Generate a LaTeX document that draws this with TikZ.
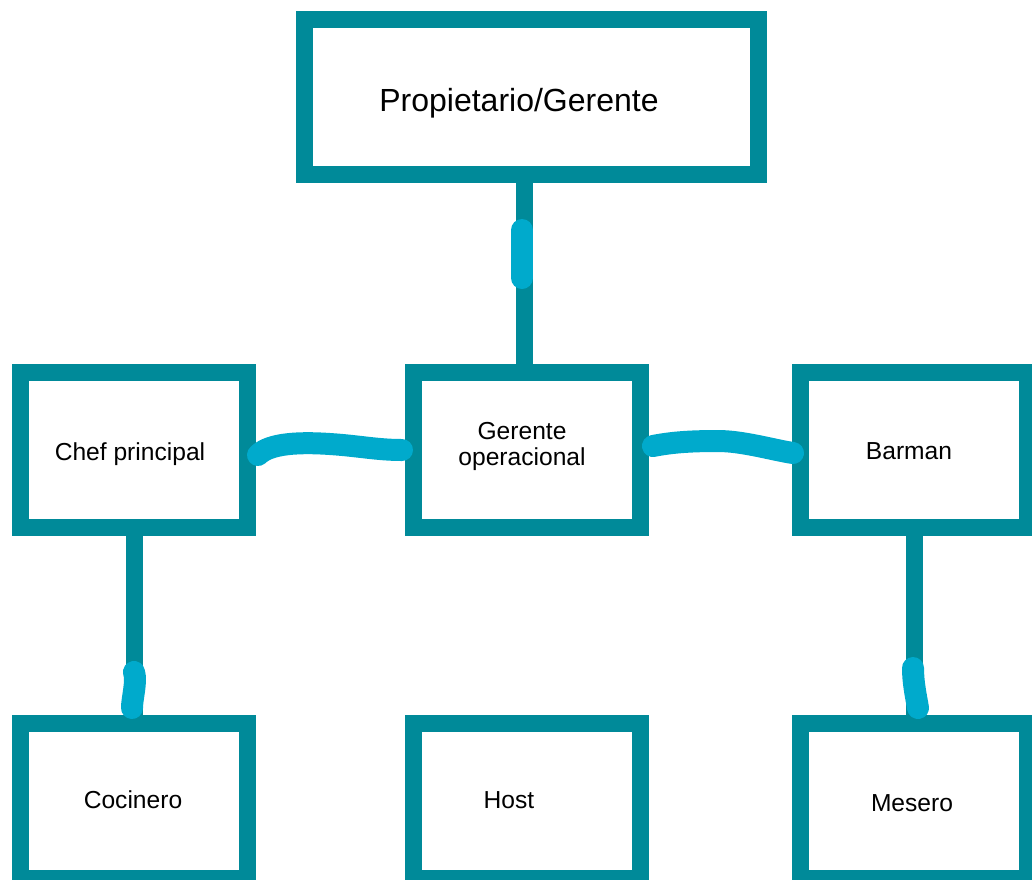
\documentclass[tikz,border=0pt]{standalone}
\usepackage{fontspec}
\setmainfont{Liberation Sans}
\usetikzlibrary{positioning}
\definecolor{boxcolor}{RGB}{0,138,153}
\definecolor{markcolor}{RGB}{0,170,204}

\begin{document}
\begin{tikzpicture}[
    x=0.5pt, y=-0.5pt,
    role/.style={draw=boxcolor, line width=8.5pt, fill=white, minimum width=113.5pt, minimum height=77.5pt, inner sep=0pt},
    head/.style={role, minimum width=227pt},
    lbl/.style={anchor=base, inner sep=0pt, font=\fontsize{12.3}{13}\selectfont},
    link/.style={boxcolor, line width=8.5pt},
    hand/.style={markcolor, line width=11pt, line cap=round}
]
    \useasboundingbox (0,0) rectangle (1032,879);
    \clip (0,0) rectangle (1032,879);

    % Boxes
    \node[head] (owner) at (531.5,97) {};
    \node[role] (chef) at (134,450) {};
    \node[role] (opman) at (527,450) {};
    \node[role] (barman) at (914,450) {};
    \node[role] (cook) at (134,801) {};
    \node[role] (host) at (527,801) {};
    \node[role] (waiter) at (914,801) {};

    % Labels
    \node[lbl, font=\fontsize{16}{19}\selectfont] (ownertxt) at (519,111) {Propietario/Gerente};
    \node[lbl] (cheftxt) at (130,460) {Chef principal};
    \node[lbl, anchor=center, align=center] (opmantxt) at (522,446.5) {Gerente\\operacional};
    \node[lbl] (barmantxt) at (909,459) {Barman};
    \node[lbl] (cooktxt) at (133,808) {Cocinero};
    \node[lbl] (hosttxt) at (509,808) {Host};
    \node[lbl] (waitertxt) at (912,811) {Mesero};

    % Lines
    \draw[link] ([xshift=-1.5pt]opman.north) -- ([xshift=-1.5pt]opman.north |- owner.south);
    \draw[link] (chef.south) -- (cook.north);
    \draw[link] (barman.south) -- (waiter.north);

    % Hand strokes
    \draw[hand] ([shift={(-9.5,47)}]owner.south) -- ([shift={(-5,-86)}]opman.north);
    \draw[hand] ([shift={(2,5)}]chef.east) .. controls +(12,-12) and +(-30,-2) .. ++(72,-11)
        .. controls +(30,2) and +(-25,0) .. ([shift={(-3,0)}]opman.west);
    \draw[hand] ([shift={(4,-4)}]opman.east) .. controls +(20,-4) and +(-25,0) .. ++(65,-5)
        .. controls +(25,0) and +(-20,-3) .. ([shift={(1,3)}]barman.west);
    \draw[hand] ([shift={(0,-43)}]cook.north) .. controls +(3,10) and +(0,-10) .. ([shift={(-2,-7)}]cook.north);
    \draw[hand] ([shift={(-1,-47)}]waiter.north) .. controls +(0,15) and +(-2,-12) .. ([shift={(4,-7)}]waiter.north);
\end{tikzpicture}
\end{document}
